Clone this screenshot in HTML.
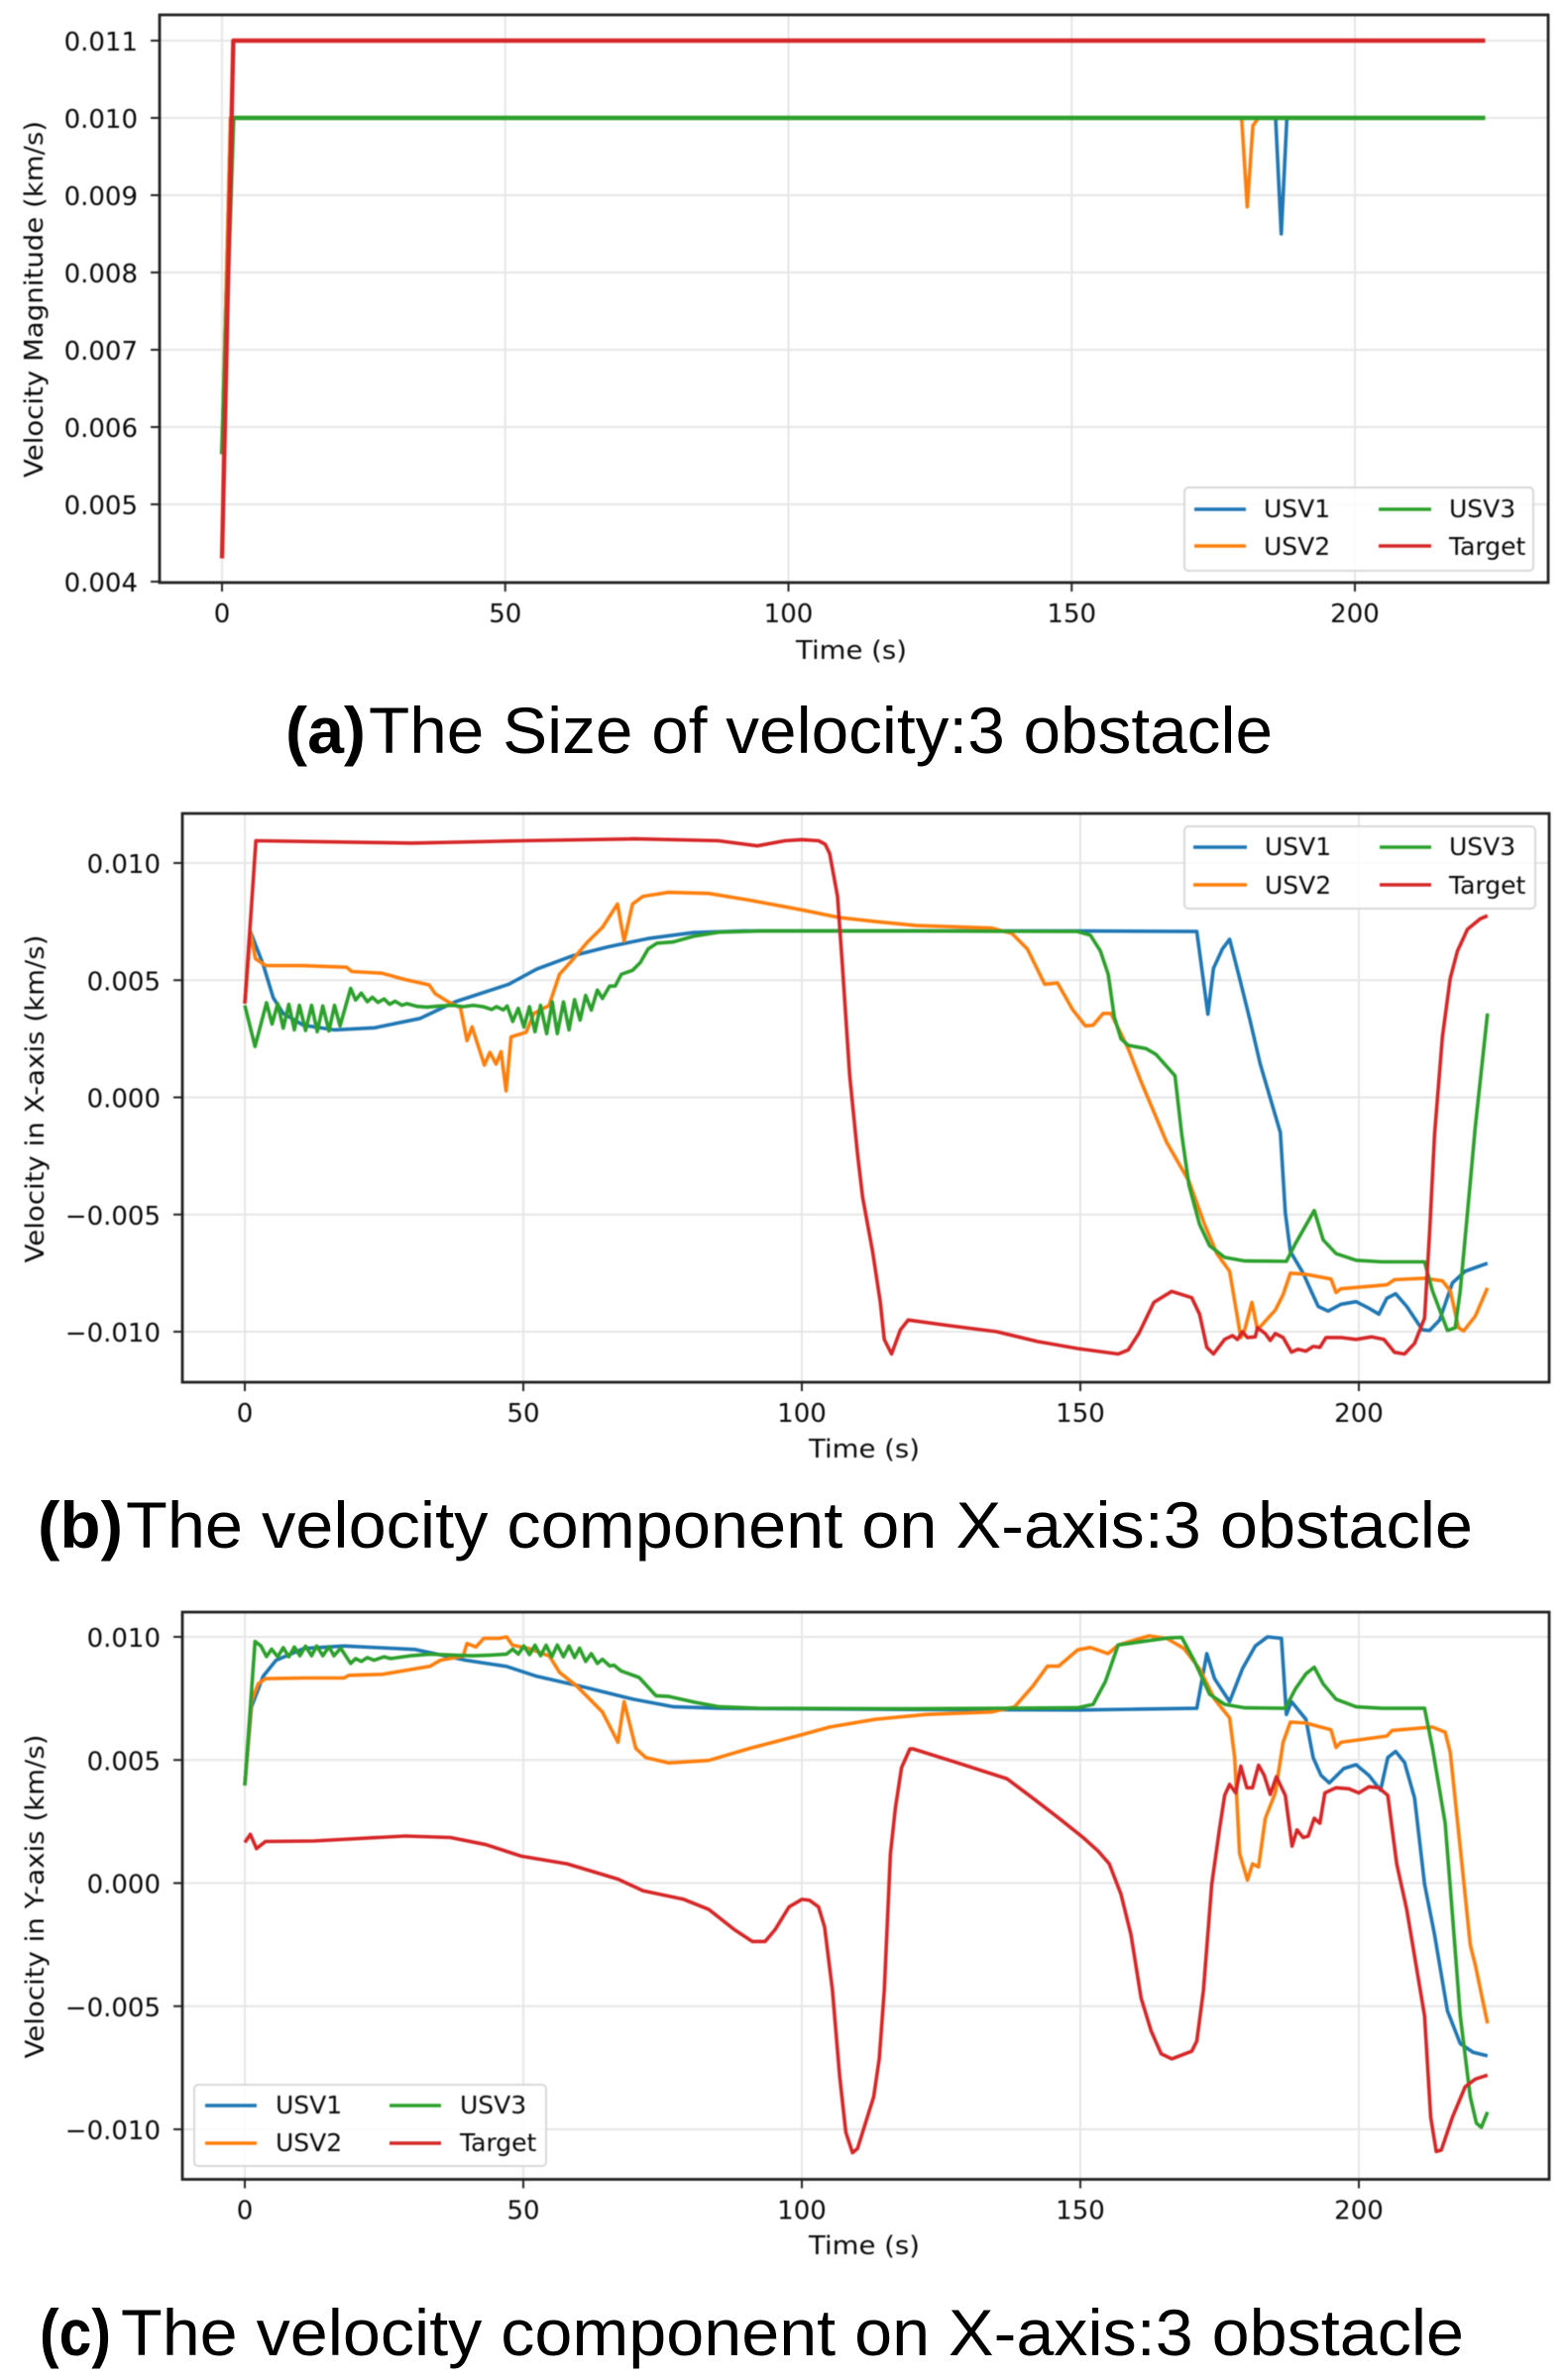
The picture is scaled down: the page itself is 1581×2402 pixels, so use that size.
<!DOCTYPE html>
<html lang="en">
<head>
<meta charset="utf-8">
<title>USV velocity charts</title>
<style>
html,body{margin:0;padding:0;background:#fff;}
svg{display:block;}
text{font-family:"DejaVu Sans","Liberation Sans",sans-serif;fill:#0a0a0a;}
.plot{filter:blur(0.6px);}
.cap{font-family:"Liberation Sans",sans-serif;font-size:66px;fill:#000;}
.capb{font-weight:bold;}
.leg{font-size:25px;}
.ax{font-size:26px;}
.lbox{fill:#fff;fill-opacity:.85;stroke:#d8d8d8;stroke-width:2;}
</style>
</head>
<body>
<svg id="root" width="1581" height="2402" viewBox="0 0 1581 2402" xmlns="http://www.w3.org/2000/svg">
<rect width="1581" height="2402" fill="#fff"/>

<g class="plot">
  <g id="a-marks"></g>
  <text class="ax" x="859" y="665" text-anchor="middle" textLength="112" lengthAdjust="spacingAndGlyphs">Time (s)</text>
  <text class="ax" transform="translate(43,302) rotate(-90)" text-anchor="middle" textLength="360" lengthAdjust="spacingAndGlyphs">Velocity Magnitude (km/s)</text>
  <g>
    <rect class="lbox" x="1195" y="492" width="352" height="84" rx="4"/>
    <line x1="1205" x2="1257" y1="514" y2="514" stroke="#1f77b4" stroke-width="3.6"/>
    <text class="leg" x="1275" y="522">USV1</text>
    <line x1="1205" x2="1257" y1="551" y2="551" stroke="#ff7f0e" stroke-width="3.6"/>
    <text class="leg" x="1275" y="560">USV2</text>
    <line x1="1391" x2="1444" y1="514" y2="514" stroke="#2ca02c" stroke-width="3.6"/>
    <text class="leg" x="1462" y="522">USV3</text>
    <line x1="1391" x2="1444" y1="551" y2="551" stroke="#d62728" stroke-width="3.6"/>
    <text class="leg" x="1462" y="560">Target</text>
  </g>
</g>
<text class="cap capb" x="288" y="760" textLength="81" lengthAdjust="spacingAndGlyphs">(a)</text>
<text class="cap" x="372" y="760" textLength="912" lengthAdjust="spacingAndGlyphs">The Size of velocity:3 obstacle</text>

<g class="plot">
  <g id="b-marks"></g>
  <text class="ax" x="872" y="1471" text-anchor="middle" textLength="112" lengthAdjust="spacingAndGlyphs">Time (s)</text>
  <text class="ax" transform="translate(44,1109) rotate(-90)" text-anchor="middle" textLength="331" lengthAdjust="spacingAndGlyphs">Velocity in X-axis (km/s)</text>
  <g>
    <rect class="lbox" x="1195" y="834" width="354" height="83" rx="4"/>
    <line x1="1204" x2="1258" y1="855" y2="855" stroke="#1f77b4" stroke-width="3.6"/>
    <text class="leg" x="1276" y="863">USV1</text>
    <line x1="1204" x2="1258" y1="893" y2="893" stroke="#ff7f0e" stroke-width="3.6"/>
    <text class="leg" x="1276" y="902">USV2</text>
    <line x1="1392" x2="1444" y1="855" y2="855" stroke="#2ca02c" stroke-width="3.6"/>
    <text class="leg" x="1462" y="863">USV3</text>
    <line x1="1392" x2="1444" y1="893" y2="893" stroke="#d62728" stroke-width="3.6"/>
    <text class="leg" x="1462" y="902">Target</text>
  </g>
</g>
<text class="cap capb" x="38" y="1562" textLength="86" lengthAdjust="spacingAndGlyphs">(b)</text>
<text class="cap" x="127" y="1562" textLength="1359" lengthAdjust="spacingAndGlyphs">The velocity component on X-axis:3 obstacle</text>

<g class="plot">
  <g id="c-marks"></g>
  <text class="ax" x="872" y="2275" text-anchor="middle" textLength="112" lengthAdjust="spacingAndGlyphs">Time (s)</text>
  <text class="ax" transform="translate(44,1914) rotate(-90)" text-anchor="middle" textLength="327" lengthAdjust="spacingAndGlyphs">Velocity in Y-axis (km/s)</text>
  <g>
    <rect class="lbox" x="196" y="2104" width="355" height="82" rx="4"/>
    <line x1="207" x2="259" y1="2125" y2="2125" stroke="#1f77b4" stroke-width="3.6"/>
    <text class="leg" x="278" y="2133">USV1</text>
    <line x1="207" x2="259" y1="2163" y2="2163" stroke="#ff7f0e" stroke-width="3.6"/>
    <text class="leg" x="278" y="2171">USV2</text>
    <line x1="393" x2="445" y1="2125" y2="2125" stroke="#2ca02c" stroke-width="3.6"/>
    <text class="leg" x="464" y="2133">USV3</text>
    <line x1="393" x2="445" y1="2163" y2="2163" stroke="#d62728" stroke-width="3.6"/>
    <text class="leg" x="464" y="2171">Target</text>
  </g>
</g>
<text class="cap capb" x="40" y="2377" textLength="72" lengthAdjust="spacingAndGlyphs">(c)</text>
<text class="cap" x="122" y="2377" textLength="1355" lengthAdjust="spacingAndGlyphs">The velocity component on X-axis:3 obstacle</text>
</svg>

<script>
// Values are in units of 0.001 km/s; times are in seconds.
const xTicks = [0, 50, 100, 150, 200];
const aYTicks = [0.004, 0.005, 0.006, 0.007, 0.008, 0.009, 0.010, 0.011];
const bYTicks = [-0.010, -0.005, 0, 0.005, 0.010];
const cYTicks = [-0.010, -0.005, 0, 0.005, 0.010];

const aUsv1T = [0, 1.5, 186, 187, 188, 223];
const aUsv1V = [5.65, 10, 10, 8.5, 10, 10];
const aUsv2T = [0, 1.5, 180, 181, 182, 183, 223];
const aUsv2V = [5.65, 10, 10, 8.85, 9.9, 10, 10];
const aUsv3T = [0, 2, 223];
const aUsv3V = [5.65, 10, 10];
const aTargetT = [0, 2, 223];
const aTargetV = [4.3, 11, 11];

const bUsv1T = [0,1,3.3,5.1,6.9,10.5,16,23.3,31.5,37.8,47.4,52.4,58.7,65.1,72.4,80.5,89.6,120,150,170.9,172.9,173.9,175.5,176.8,178.6,180.5,182.3,185.9,186.8,187.7,190,191.4,192.7,194.5,196.8,199.5,201.8,203.6,205,206.6,208.6,211.4,212.7,214.5,216.8,219.1,223.1];
const bUsv1V = [4,7.08,5.67,4.25,3.58,3.08,2.88,2.97,3.37,4.08,4.83,5.47,6.03,6.42,6.78,7.03,7.1,7.1,7.1,7.08,3.55,5.5,6.33,6.75,5.08,3.25,1.42,-1.5,-4.92,-6.58,-7.5,-8.25,-8.92,-9.12,-8.83,-8.72,-9,-9.25,-8.58,-8.38,-8.92,-9.92,-9.95,-9.5,-7.92,-7.42,-7.08];
const bUsv2T = [0,1,1.9,3.7,10.5,18.3,19.2,24.6,28.7,33.1,34.2,36.5,38.7,39.2,39.9,40.8,43,44,45.1,46,46.9,47.8,50.5,51.9,54.6,56.5,58.7,61.5,64.2,66.9,68.1,69.6,71.5,76,83.3,90.5,100,106.8,113.2,120.5,134.1,137.7,140.5,143.6,145.9,148.6,150.9,152.3,154.1,155.5,158.6,160.9,165.5,169.5,172.3,174.5,176.8,178.8,179.5,180.8,181.8,185,186.4,187.7,190.5,195,195.9,196.8,205,206.4,211.8,215,216.4,217.9,218.8,220.9,223.1];
const bUsv2V = [4,7.08,5.92,5.63,5.62,5.55,5.37,5.3,5.03,4.8,4.42,4.08,3.83,3.25,2.42,3,1.38,1.92,1.42,1.95,0.28,2.58,2.78,3.58,3.92,5.25,5.83,6.62,7.25,8.25,6.67,8.25,8.58,8.75,8.7,8.42,8,7.67,7.5,7.33,7.22,7,6.33,4.83,4.88,3.75,3.05,3.08,3.58,3.58,2.08,0.67,-1.92,-3.58,-5.42,-6.67,-7.42,-10.25,-9.92,-8.75,-9.92,-9.08,-8.42,-7.5,-7.55,-7.75,-8.33,-8.17,-8,-7.78,-7.72,-7.83,-8.25,-9.83,-9.97,-9.33,-8.13];
const bUsv3T = [0,1.84,3.9,4.9,5.9,6.9,7.9,8.9,9.8,10.9,12,13,14,15.1,16.1,17.1,19,19.9,20.9,22,22.9,23.9,25,26,27,28.2,29.1,30.9,32.7,35,37.4,39.2,41,42.8,44.3,45.2,46.4,47.1,48.1,49.1,50.1,51.1,52.1,53.1,54.2,55.2,56.1,57.2,58.2,59.2,60.2,61.2,62.2,63.3,64.2,65.5,66.5,67.6,69.6,71,72.4,74,76.9,80.5,85.1,92.4,120,149.5,151.8,153.6,155,156.1,157.3,158.6,161.8,163.6,167,168.2,169.5,171.4,173.2,175.9,179.5,187,188.6,192,193.6,195.9,199.5,204.1,211.8,213.2,215.9,217.3,218.2,219.5,220.9,223.1];
const bUsv3V = [3.93,2.17,4.04,3.13,4,2.95,3.97,2.88,3.93,2.85,3.93,2.8,3.9,2.83,3.93,3.05,4.65,4.15,4.45,4.08,4.27,4.05,4.2,3.97,4.1,3.93,4,3.88,3.85,3.9,3.93,3.87,3.93,3.87,3.75,3.87,3.73,3.9,3.24,3.8,3,3.87,2.8,3.93,2.72,4.07,2.72,4.07,2.88,4.17,3.3,4.35,3.72,4.58,4.22,4.75,4.75,5.25,5.42,5.75,6.33,6.58,6.63,6.87,7.05,7.1,7.1,7.08,6.92,6.25,5.25,3.42,2.5,2.22,2.08,1.83,0.92,-1.58,-3.75,-5.42,-6.33,-6.83,-6.98,-7,-6.25,-4.83,-6.08,-6.67,-6.95,-7.02,-7.02,-8.25,-9.95,-9.83,-8.25,-4.92,-1.25,3.58];
const bTargetT = [0,2,30,50,70,85,92,97,100,103,104.2,105,106.4,107.3,108.6,110,110.9,112.7,114.1,114.8,116.1,117.7,119.1,126.8,135,142.3,149.5,156.8,158.6,160.5,163.2,166.4,170,171.4,172.7,173.9,175.9,177.3,178.2,179.1,180,181.4,181.8,183.2,184.1,185,186.4,187.9,189.1,190.5,191.8,193,194.1,196.8,199.5,202.3,204.5,206.4,208.2,210,211.8,212.7,213.6,215,216.4,217.7,219.5,221.8,223.1];
const bTargetV = [4,10.95,10.85,10.95,11.03,10.95,10.73,10.95,11,10.95,10.8,10.4,8.58,5.58,0.92,-2.42,-4.25,-6.58,-8.75,-10.33,-10.95,-9.92,-9.5,-9.75,-10,-10.42,-10.72,-10.95,-10.78,-10.08,-8.75,-8.28,-8.55,-9.25,-10.67,-10.95,-10.33,-10.17,-10.33,-10,-10.25,-10.22,-9.83,-10.08,-10.37,-10.08,-10.25,-10.87,-10.75,-10.83,-10.63,-10.67,-10.25,-10.25,-10.33,-10.22,-10.33,-10.88,-10.95,-10.5,-9.42,-5.75,-1.58,2.58,5.08,6.25,7.17,7.62,7.75];

const cUsv1T = [0,1.2,3.3,5.6,10.6,17.8,30.6,39.7,47,52.4,60.6,69.7,77,85.2,120,150,170.9,172.7,174.1,176.8,179.1,181.4,183.6,186.1,187,187.9,190.5,191.8,193.2,194.7,197.3,199.5,201.8,203.9,205.2,206.6,208.2,210,211.8,213.6,215.9,218.2,220.5,223.1];
const cUsv1V = [4,7.16,8.4,9.05,9.53,9.63,9.49,9.05,8.8,8.4,7.98,7.47,7.16,7.1,7.05,7.03,7.1,9.32,8.3,7.37,8.7,9.63,10,9.94,6.85,7.37,6.65,5.1,4.38,4.07,4.65,4.81,4.38,3.77,5.1,5.35,4.9,3.46,-0.04,-2.1,-5.19,-6.52,-6.87,-7.02];
const cUsv2T = [0,1.2,2.4,3.7,10.6,17.8,18.7,24.7,33.3,35.1,39.2,39.9,41.5,42.9,45.6,47,48,51,54.7,56.5,59.7,64.2,67,68.1,70.2,72,76.1,83.3,90.6,100,105,113.2,122.3,134.1,138.2,141.4,144.1,146.1,149.5,151.8,155,156.8,162.3,165.5,168.6,171.4,174.1,176.8,177.7,178.6,180,180.9,182,183.2,185,186.4,187.7,190.5,195,195.9,196.8,205,206,213.2,215.5,216.4,218.6,220,220.9,223.1];
const cUsv2V = [3.97,7.37,8.09,8.3,8.33,8.33,8.44,8.48,8.81,9.05,9.22,9.73,9.59,9.94,9.94,10,9.67,9.53,9.22,8.56,7.98,6.95,5.72,7.37,5.47,5.1,4.88,4.98,5.47,6.03,6.34,6.65,6.85,6.95,7.16,7.98,8.81,8.81,9.47,9.57,9.32,9.67,10.04,9.94,9.53,8.7,7.47,6.71,5.1,1.19,0.12,0.78,0.66,2.63,3.66,5.72,6.54,6.5,6.23,5.51,5.72,5.97,6.2,6.34,6.13,5.31,0.58,-2.51,-3.33,-5.7];
const cUsv3T = [0,1.84,2.9,3.9,4.8,5.9,6.9,7.9,8.9,9.9,10.9,12,12.9,14,15.1,16,17.2,19,19.9,20.9,22,23.2,25,26.2,29.7,33.3,37.4,41,44,47,48.1,49.1,50.1,51.1,52.1,53.1,54.1,55.1,56.1,57.2,58.2,59.2,60.1,61.2,62.2,63.3,64.2,65.5,66.3,67.5,70.8,73.8,76.1,80.9,85.2,92.4,120,149.5,152.3,154.5,156.8,160.5,165.9,168.2,170.5,173.2,175.9,179.5,186.8,188.6,190.5,192,193.6,195.9,199.5,204.1,211.8,213.2,215.5,216.8,218.2,220,221.1,222,223.1];
const cUsv3V = [3.96,9.81,9.63,9.2,9.5,9.19,9.56,9.19,9.59,9.23,9.62,9.23,9.63,9.23,9.6,9.23,9.54,8.92,9.12,9,9.16,9.05,9.19,9.12,9.23,9.3,9.26,9.23,9.26,9.3,9.5,9.3,9.63,9.28,9.66,9.23,9.66,9.19,9.67,9.19,9.63,9.16,9.54,9,9.32,8.92,9.09,8.82,8.85,8.62,8.35,7.61,7.58,7.34,7.16,7.1,7.08,7.12,7.26,8.19,9.67,9.79,9.96,9.98,9.01,7.67,7.26,7.12,7.1,7.88,8.5,8.77,8.09,7.47,7.16,7.1,7.1,5.51,2.43,-1.28,-5.39,-8.68,-9.75,-9.92,-9.3];
const cTargetT = [0,1,2.1,3.7,12.4,28.8,36.9,43.3,49.7,57.9,67,71.5,78.8,83.3,87.9,91.1,93.4,95.2,97.7,100,101.4,103,104.1,105.5,106.8,107.9,109.1,110,112.9,113.9,114.8,115.9,116.8,117.9,119.4,120,127.7,136.8,141.4,145.9,150.5,153.2,155.2,157.3,159.1,160.9,162.7,164.5,166.4,170,170.9,172.1,173.6,175,175.9,176.8,177.9,178.8,179.9,180.9,182,183,184.1,185.2,186.8,188,188.9,190,190.9,192,193,193.9,195.9,198.2,200,201.8,203.6,205.2,206.8,208.6,211.8,212.9,213.9,214.8,216.8,219.1,220.9,223.1];
const cTargetV = [1.65,1.98,1.4,1.69,1.71,1.91,1.85,1.56,1.09,0.78,0.16,-0.31,-0.66,-1.07,-1.89,-2.37,-2.37,-1.89,-0.97,-0.66,-0.7,-0.97,-1.79,-4.36,-7.86,-10.12,-10.95,-10.78,-8.68,-7.14,-4.36,1.19,3.05,4.69,5.45,5.45,4.9,4.24,3.46,2.68,1.85,1.3,0.78,-0.45,-2.1,-4.67,-6,-6.93,-7.14,-6.83,-6.42,-4.36,-0.04,2.22,3.56,4.01,3.66,4.75,3.87,3.87,4.79,4.38,3.6,4.32,3.56,1.5,2.16,1.85,1.91,2.63,2.43,3.66,3.87,3.83,3.66,3.91,3.87,3.56,0.78,-1.07,-5.39,-9.51,-10.9,-10.84,-9.51,-8.27,-7.96,-7.8];

const SVG_NS = 'http://www.w3.org/2000/svg';
const UNIT = 0.001;

function axisX(x0, x200) {
  return function (t) { return x0 + (x200 - x0) * t / 200; };
}
function axisY(vA, pxA, vB, pxB) {
  return function (v) { return pxA + (pxB - pxA) * (v - vA) / (vB - vA); };
}
function tickText(v, digits) {
  const s = Math.abs(v).toFixed(digits);
  return v < 0 ? '\u2212' + s : s;
}
function drawLine(parent, x1, y1, x2, y2, color, width, name) {
  const el = document.createElementNS(SVG_NS, 'line');
  
  
  el.setAttribute('x1', x1);
  el.setAttribute('y1', y1);
  el.setAttribute('x2', x2);
  el.setAttribute('y2', y2);
  el.setAttribute('stroke', color);
  el.setAttribute('stroke-width', width);
  parent.appendChild(el);
}
function drawLabel(parent, x, y, anchor, str, name) {
  const el = document.createElementNS(SVG_NS, 'text');
  
  
  el.setAttribute('x', x);
  el.setAttribute('y', y);
  el.setAttribute('text-anchor', anchor);
  el.setAttribute('class', 'ax');
  el.textContent = str;
  parent.appendChild(el);
}
function drawSeries(parent, ts, vs, sx, sy, color, width, name) {
  const pts = ts.map(function (t, i) {
    return sx(t).toFixed(1) + ',' + sy(vs[i] * UNIT).toFixed(1);
  }).join(' ');
  const el = document.createElementNS(SVG_NS, 'polyline');
  
  
  el.setAttribute('points', pts);
  el.setAttribute('fill', 'none');
  el.setAttribute('stroke', color);
  el.setAttribute('stroke-width', width);
  el.setAttribute('stroke-linejoin', 'round');
  parent.appendChild(el);
}
function drawAxes(parent, key, box, sx, sy, yTicks, tickRight) {
  xTicks.forEach(function (t) {
    drawLine(parent, sx(t), box.top, sx(t), box.bottom, '#e6e6e6', 2, 'x-gridline-' + key);
    drawLine(parent, sx(t), box.bottom, sx(t), box.bottom + 9, '#222', 2, 'x-tick-' + key);
    drawLabel(parent, sx(t), box.bottom + 40, 'middle', String(t), 'x-tick-label-' + key);
  });
  yTicks.forEach(function (v) {
    drawLine(parent, box.left, sy(v), box.right, sy(v), '#e6e6e6', 2, 'y-gridline-' + key);
    drawLine(parent, box.left - 9, sy(v), box.left, sy(v), '#222', 2, 'y-tick-' + key);
    drawLabel(parent, tickRight, sy(v) + 10, 'end', tickText(v, 3), 'y-tick-label-' + key);
  });
}
function drawFrame(parent, key, box) {
  const el = document.createElementNS(SVG_NS, 'rect');
  
  
  el.setAttribute('x', box.left);
  el.setAttribute('y', box.top);
  el.setAttribute('width', box.right - box.left);
  el.setAttribute('height', box.bottom - box.top);
  el.setAttribute('fill', 'none');
  el.setAttribute('stroke', '#222');
  el.setAttribute('stroke-width', '2.8');
  parent.appendChild(el);
}

const BLUE = '#1f77b4', ORANGE = '#ff7f0e', GREEN = '#2ca02c', RED = '#d62728';

(function () {
  const g = document.getElementById('a-marks');
  const box = { left: 161, right: 1562, top: 15, bottom: 588 };
  const sx = axisX(224, 1367);
  const sy = axisY(0.004, 587, 0.011, 41);
  drawAxes(g, 'a', box, sx, sy, aYTicks, 139);
  drawSeries(g, aUsv1T, aUsv1V, sx, sy, BLUE, 3.6, 'series-a-usv1');
  drawSeries(g, aUsv2T, aUsv2V, sx, sy, ORANGE, 3.6, 'series-a-usv2');
  drawSeries(g, aUsv3T, aUsv3V, sx, sy, GREEN, 4.4, 'series-a-usv3');
  drawSeries(g, aTargetT, aTargetV, sx, sy, RED, 4.4, 'series-a-target');
  drawFrame(g, 'a', box);
})();

(function () {
  const g = document.getElementById('b-marks');
  const box = { left: 184, right: 1563, top: 821, bottom: 1395 };
  const sx = axisX(247, 1371);
  const sy = axisY(-0.010, 1344, 0.010, 871);
  drawAxes(g, 'b', box, sx, sy, bYTicks, 162);
  drawSeries(g, bUsv1T, bUsv1V, sx, sy, BLUE, 3.6, 'series-b-usv1');
  drawSeries(g, bUsv2T, bUsv2V, sx, sy, ORANGE, 3.6, 'series-b-usv2');
  drawSeries(g, bUsv3T, bUsv3V, sx, sy, GREEN, 3.6, 'series-b-usv3');
  drawSeries(g, bTargetT, bTargetV, sx, sy, RED, 3.6, 'series-b-target');
  drawFrame(g, 'b', box);
})();

(function () {
  const g = document.getElementById('c-marks');
  const box = { left: 184, right: 1563, top: 1627, bottom: 2199.5 };
  const sx = axisX(247, 1371);
  const sy = axisY(-0.010, 2149, 0.010, 1652);
  drawAxes(g, 'c', box, sx, sy, cYTicks, 162);
  drawSeries(g, cUsv1T, cUsv1V, sx, sy, BLUE, 3.6, 'series-c-usv1');
  drawSeries(g, cUsv2T, cUsv2V, sx, sy, ORANGE, 3.6, 'series-c-usv2');
  drawSeries(g, cUsv3T, cUsv3V, sx, sy, GREEN, 3.6, 'series-c-usv3');
  drawSeries(g, cTargetT, cTargetV, sx, sy, RED, 3.6, 'series-c-target');
  drawFrame(g, 'c', box);
})();
</script>
</body>
</html>
